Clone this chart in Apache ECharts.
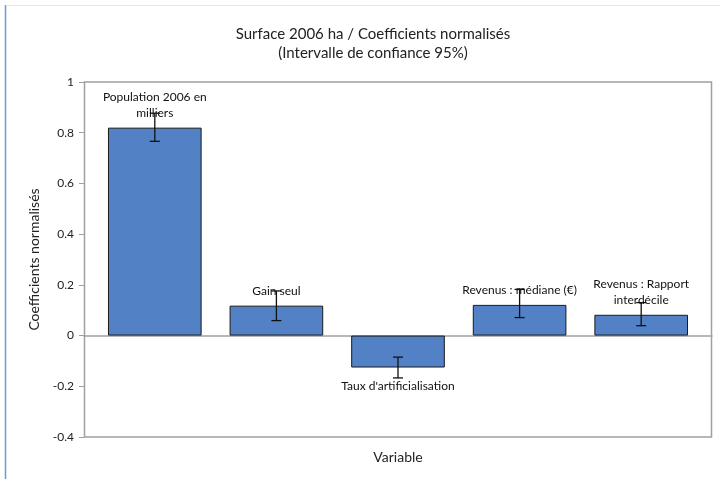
<!DOCTYPE html>
<html>
<head>
<meta charset="utf-8">
<script src="https://cdn.jsdelivr.net/npm/echarts@6/dist/echarts.min.js"></script>
<style>html,body{margin:0;padding:0;background:#fff;}#c{width:725px;height:479px;}</style>
</head>
<body>
<div id="c"></div>
<script>
const categories = ['Population 2006 en milliers', 'Gain seul', "Taux d'artificialisation", 'Revenus : médiane (€)', 'Revenus : Rapport interdécile'];
const labelTexts = ['Population 2006 en\nmilliers', 'Gain seul', "Taux d'artificialisation", 'Revenus : médiane (€)', 'Revenus : Rapport\ninterdécile'];
const coefficients = [0.82, 0.118, -0.126, 0.121, 0.082];
const errLow = [0.766, 0.059, -0.167, 0.071, 0.039];
const errHigh = [0.877, 0.176, -0.085, 0.182, 0.130];
const yTicks = { min: -0.4, max: 1, interval: 0.2 };

const FONT = 'Lato';
const chart = echarts.init(document.getElementById('c'));
const barData = coefficients.map((v, i) => ({
  value: v,
  label: { position: v < 0 ? 'bottom' : 'top', formatter: labelTexts[i], distance: v < 0 ? 11 : 7 }
}));
const errData = categories.map((c, i) => [i, errLow[i], errHigh[i]]);

chart.setOption({
  animation: false,
  textStyle: { fontFamily: FONT },
  title: {
    text: 'Surface 2006 ha / Coefficients normalisés\n(Intervalle de confiance 95%)',
    left: 368, top: 20, textAlign: 'center',
    textStyle: { fontFamily: FONT, fontSize: 15, fontWeight: 'normal', color: '#222', lineHeight: 19 }
  },
  graphic: [
    { type: 'line', shape: { x1: 5.5, y1: 5, x2: 5.5, y2: 479 }, style: { stroke: '#6b9bd6', lineWidth: 1.5 } },
    { type: 'line', shape: { x1: 6, y1: 5.5, x2: 720, y2: 5.5 }, style: { stroke: '#e3e7ee', lineWidth: 1 } },
    { type: 'rect', shape: { x: 84.5, y: 82, width: 627, height: 355 }, style: { fill: 'none', stroke: '#a0a0a0', lineWidth: 1.5 }, z: 1 }
  ],
  grid: [
    { left: 94, right: 23, top: 82, bottom: 42 },
    { left: 84, right: 13, top: 82, bottom: 42 }
  ],
  xAxis: [
    {
      type: 'category', data: categories, gridIndex: 0,
      name: 'Variable', nameLocation: 'middle', nameGap: 13,
      nameTextStyle: { fontFamily: FONT, fontSize: 14, color: '#222' },
      axisLine: { show: false, onZero: false },
      axisTick: { show: false }, axisLabel: { show: false }
    },
    {
      type: 'category', data: [], gridIndex: 1,
      axisLine: { show: true, onZero: true, lineStyle: { color: '#a0a0a0', width: 1.5 } },
      axisTick: { show: false }, axisLabel: { show: false }
    }
  ],
  yAxis: [
    {
      type: 'value', gridIndex: 0, min: yTicks.min, max: yTicks.max, interval: yTicks.interval,
      offset: 10,
      name: 'Coefficients normalisés', nameLocation: 'middle', nameGap: 34,
      nameTextStyle: { fontFamily: FONT, fontSize: 14, color: '#222' },
      axisLine: { show: true, lineStyle: { color: '#a0a0a0' } },
      axisTick: { show: true, length: 5, lineStyle: { color: '#a0a0a0' } },
      axisLabel: { fontFamily: FONT, fontSize: 12, color: '#222', margin: 10 },
      splitLine: { show: false }
    },
    {
      type: 'value', gridIndex: 1, min: yTicks.min, max: yTicks.max, interval: yTicks.interval,
      show: false
    }
  ],
  series: [
    {
      type: 'bar', data: barData, barCategoryGap: '23%',
      itemStyle: { color: '#5282c5', borderColor: '#1a1a1a', borderWidth: 1 },
      label: { show: true, fontFamily: FONT, fontSize: 12, color: '#111', lineHeight: 16 },
      z: 2
    },
    {
      type: 'custom', data: errData, z: 5,
      renderItem: function (params, api) {
        const x = api.value(0);
        const lo = api.coord([x, api.value(1)]);
        const hi = api.coord([x, api.value(2)]);
        const w = 5;
        const st = { stroke: '#111', lineWidth: 1.3 };
        return {
          type: 'group', children: [
            { type: 'line', shape: { x1: lo[0], y1: lo[1], x2: hi[0], y2: hi[1] }, style: st },
            { type: 'line', shape: { x1: lo[0] - w, y1: lo[1], x2: lo[0] + w, y2: lo[1] }, style: st },
            { type: 'line', shape: { x1: hi[0] - w, y1: hi[1], x2: hi[0] + w, y2: hi[1] }, style: st }
          ]
        };
      }
    }
  ]
});
</script>
</body>
</html>
